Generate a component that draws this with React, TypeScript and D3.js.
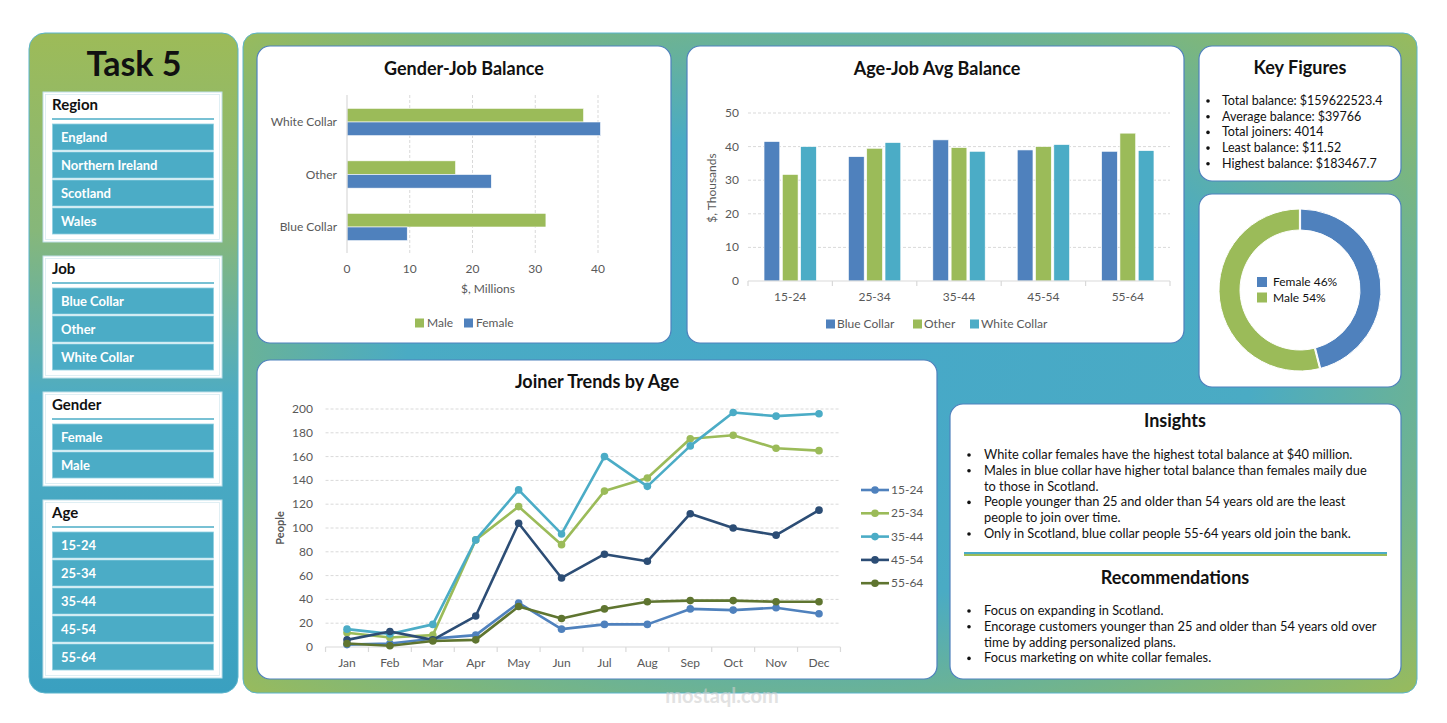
import { useEffect } from 'react'
import * as d3 from 'd3'

const FONT = 'Lato, "Open Sans", sans-serif'
const BLUE = '#4f81bd'
const GREEN = '#9bbb59'
const TEAL = '#4bacc6'
const NAVY = '#2c4d75'
const OLIVE = '#5f7530'
const AXIS_TXT = '#595959'
const GRID = '#d9d9d9'

// slicers
const regions = ['England', 'Northern Ireland', 'Scotland', 'Wales']
const jobs = ['Blue Collar', 'Other', 'White Collar']
const genders = ['Female', 'Male']
const ages = ['15-24', '25-34', '35-44', '45-54', '55-64']

// Gender-Job Balance ($, millions)
const gjJobs = ['White Collar', 'Other', 'Blue Collar']
const gjMale = [37.7, 17.3, 31.7]
const gjFemale = [40.4, 23.0, 9.6]
const gjTicks = [0, 10, 20, 30, 40]

// Age-Job Avg Balance ($, thousands)
const ajBlueCollar = [41.5, 37.0, 42.0, 39.0, 38.6]
const ajOther = [31.7, 39.5, 39.7, 40.0, 44.0]
const ajWhiteCollar = [40.0, 41.2, 38.6, 40.6, 38.8]
const ajTicks = [0, 10, 20, 30, 40, 50]

const keyFigures = [
  'Total balance: $159622523.4',
  'Average balance: $39766',
  'Total joiners: 4014',
  'Least balance: $11.52',
  'Highest balance: $183467.7',
]

const genderLabels = ['Female', 'Male']
const genderShare = [46, 54]

// Joiner Trends by Age (people)
const months = ['Jan', 'Feb', 'Mar', 'Apr', 'May', 'Jun', 'Jul', 'Aug', 'Sep', 'Oct', 'Nov', 'Dec']
const join1524 = [2, 3, 7, 10, 37, 15, 19, 19, 32, 31, 33, 28]
const join2534 = [12, 8, 10, 90, 118, 86, 131, 142, 175, 178, 167, 165]
const join3544 = [15, 11, 19, 90, 132, 95, 160, 135, 169, 197, 194, 196]
const join4554 = [6, 13, 6, 26, 104, 58, 78, 72, 112, 100, 94, 115]
const join5564 = [3, 1, 5, 6, 34, 24, 32, 38, 39, 39, 38, 38]
const joinTicks = [0, 20, 40, 60, 80, 100, 120, 140, 160, 180, 200]

const insights = [
  ['White collar females have the highest total balance at $40 million.'],
  ['Males in blue collar have higher total balance than females maily due', 'to those in Scotland.'],
  ['People younger than 25 and older than 54 years old are the least', 'people to join over time.'],
  ['Only in Scotland, blue collar people 55-64 years old join the bank.'],
]
const recommendations = [
  ['Focus on expanding in Scotland.'],
  ['Encorage customers younger than 25 and older than 54 years old over', 'time by adding personalized plans.'],
  ['Focus marketing on white collar females.'],
]

function Panel({ x, y, w, h }: { x: number; y: number; w: number; h: number }) {
  return <rect x={x} y={y} width={w} height={h} rx={13} fill="#fff" stroke={BLUE} strokeWidth={1.2} />
}

function Slicer({ top, title, items }: { top: number; title: string; items: string[] }) {
  const start = top + 32
  const bottom = start + items.length * 28 + 6
  return (
    <g>
      <rect x={43} y={top} width={179} height={bottom - top} fill="#fff" stroke="#bfe0ea" strokeWidth={1} />
      <rect x={45.5} y={top + 2.5} width={174} height={bottom - top - 5} fill="none" stroke="#d7ecf2" strokeWidth={0.8} />
      <text x={52} y={top + 18} fontSize={15} fontWeight={700} fill="#111">{title}</text>
      <line x1={52} x2={214} y1={top + 27} y2={top + 27} stroke={TEAL} strokeWidth={1.5} />
      {items.map((t, i) => (
        <g key={t}>
          <rect x={52.5} y={start + i * 28} width={161} height={26} fill={TEAL} stroke="#8fd0e0" strokeWidth={0.8} />
          <text x={61} y={start + i * 28 + 17.5} fontSize={13} fontWeight={700} fill="#fff">{t}</text>
        </g>
      ))}
    </g>
  )
}

function GenderJob() {
  const x = d3.scaleLinear().domain([0, 40]).range([347, 598])
  const y = d3.scaleBand().domain(gjJobs).range([95.75, 253.25]).paddingInner(0.48).paddingOuter(0.24)
  const sub = d3.scaleBand().domain(['Male', 'Female']).range([0, y.bandwidth()])
  return (
    <g>
      <text x={464} y={75} textAnchor="middle" fontSize={18} fontWeight={700} fill="#111">Gender-Job Balance</text>
      {gjTicks.slice(1).map(t => (
        <line key={t} x1={x(t)} x2={x(t)} y1={95} y2={253} stroke={GRID} strokeDasharray="3,2" />
      ))}
      {gjJobs.map((j, i) => (
        <g key={j}>
          <rect x={x(0)} y={y(j)! + sub('Male')!} width={x(gjMale[i]) - x(0)} height={sub.bandwidth()} fill={GREEN} stroke="#fff" strokeWidth={0.6} />
          <rect x={x(0)} y={y(j)! + sub('Female')!} width={x(gjFemale[i]) - x(0)} height={sub.bandwidth()} fill={BLUE} stroke="#fff" strokeWidth={0.6} />
          <text x={337} y={y(j)! + y.bandwidth() / 2 + 4} textAnchor="end" fontSize={12} fill={AXIS_TXT}>{j}</text>
        </g>
      ))}
      <line x1={x(0)} x2={x(0)} y1={95} y2={253} stroke={GRID} strokeWidth={1.2} />
      {gjTicks.map(t => (
        <text key={t} x={x(t)} y={273} textAnchor="middle" fontSize={12} fill={AXIS_TXT}>{t}</text>
      ))}
      <text x={488} y={293} textAnchor="middle" fontSize={12} fill={AXIS_TXT}>$, Millions</text>
      <rect x={415} y={318.5} width={9} height={9} fill={GREEN} />
      <text x={427} y={327} fontSize={12} fill={AXIS_TXT}>Male</text>
      <rect x={464} y={318.5} width={9} height={9} fill={BLUE} />
      <text x={476} y={327} fontSize={12} fill={AXIS_TXT}>Female</text>
    </g>
  )
}

function AgeJob() {
  const y = d3.scaleLinear().domain([0, 50]).range([281, 113])
  const x = d3.scaleBand().domain(ages).range([748, 1170]).paddingInner(0.38).paddingOuter(0.19)
  const sub = d3.scaleBand<number>().domain([0, 1, 2]).range([0, x.bandwidth()]).paddingInner(0.14)
  const series = [
    { name: 'Blue Collar', values: ajBlueCollar, color: BLUE },
    { name: 'Other', values: ajOther, color: GREEN },
    { name: 'White Collar', values: ajWhiteCollar, color: TEAL },
  ]
  const step = x.step()
  const legendX = [826, 913, 970]
  return (
    <g>
      <text x={937} y={75} textAnchor="middle" fontSize={18} fontWeight={700} fill="#111">Age-Job Avg Balance</text>
      {ajTicks.slice(1).map(t => (
        <line key={t} x1={748} x2={1170} y1={y(t)} y2={y(t)} stroke={GRID} strokeDasharray="3,2" />
      ))}
      {ages.map((a, i) => (
        <g key={a}>
          {series.map((s, k) => (
            <rect key={s.name} x={x(a)! + sub(k)!} y={y(s.values[i])} width={sub.bandwidth()} height={y(0) - y(s.values[i])} fill={s.color} stroke="#fff" strokeWidth={0.6} />
          ))}
          <text x={x(a)! + x.bandwidth() / 2} y={301} textAnchor="middle" fontSize={12} fill={AXIS_TXT}>{a}</text>
        </g>
      ))}
      <line x1={748} x2={1170} y1={y(0)} y2={y(0)} stroke={GRID} strokeWidth={1.2} />
      {d3.range(ages.length + 1).map(i => (
        <line key={i} x1={748 + i * step} x2={748 + i * step} y1={y(0)} y2={y(0) + 5} stroke={GRID} strokeWidth={1.2} />
      ))}
      {ajTicks.map(t => (
        <text key={t} x={739} y={y(t) + 4} textAnchor="end" fontSize={12} fill={AXIS_TXT}>{t}</text>
      ))}
      <text transform="translate(716,188) rotate(-90)" textAnchor="middle" fontSize={12} fill={AXIS_TXT}>$, Thousands</text>
      {series.map((s, k) => (
        <g key={s.name}>
          <rect x={legendX[k]} y={319.5} width={9} height={9} fill={s.color} />
          <text x={legendX[k] + 11} y={328} fontSize={12} fill={AXIS_TXT}>{s.name}</text>
        </g>
      ))}
    </g>
  )
}

function KeyFigures() {
  return (
    <g>
      <text x={1300} y={74} textAnchor="middle" fontSize={18} fontWeight={700} fill="#111">Key Figures</text>
      {keyFigures.map((t, i) => (
        <g key={t}>
          <circle cx={1208} cy={101 + i * 15.7} r={1.8} fill="#111" />
          <text x={1222} y={105 + i * 15.7} fontSize={12.5} fill="#111">{t}</text>
        </g>
      ))}
    </g>
  )
}

function Donut() {
  const pie = d3.pie<number>().sort(null).value(d => d)
  const arc = d3.arc<d3.PieArcDatum<number>>().innerRadius(60).outerRadius(81).padAngle(0.012)
  const colors = [BLUE, GREEN]
  return (
    <g transform="translate(1300,290)">
      {pie(genderShare).map((d, i) => (
        <path key={i} d={arc(d)!} fill={colors[i]} stroke="#fff" strokeWidth={1} />
      ))}
      {genderLabels.map((g, i) => (
        <g key={g}>
          <rect x={-43} y={-13 + i * 15.5} width={10} height={10} fill={colors[i]} />
          <text x={-27} y={-4 + i * 15.5} fontSize={12} fill="#111">{`${g} ${genderShare[i]}%`}</text>
        </g>
      ))}
    </g>
  )
}

function Joiners() {
  const x = d3.scalePoint().domain(months).range([347, 819])
  const y = d3.scaleLinear().domain([0, 200]).range([647, 409])
  const step = x.step()
  const series = [
    { name: '15-24', values: join1524, color: BLUE },
    { name: '25-34', values: join2534, color: GREEN },
    { name: '35-44', values: join3544, color: TEAL },
    { name: '45-54', values: join4554, color: NAVY },
    { name: '55-64', values: join5564, color: OLIVE },
  ]
  const line = d3.line<number>().x((_, i) => x(months[i])!).y(d => y(d))
  const left = x('Jan')! - step / 2
  const right = x('Dec')! + step / 2
  return (
    <g>
      <text x={597} y={388} textAnchor="middle" fontSize={18} fontWeight={700} fill="#111">Joiner Trends by Age</text>
      {joinTicks.slice(1).map(t => (
        <line key={t} x1={left} x2={right} y1={y(t)} y2={y(t)} stroke={GRID} strokeDasharray="3,2" />
      ))}
      <line x1={left} x2={right} y1={y(0)} y2={y(0)} stroke={GRID} strokeWidth={1.2} />
      {d3.range(months.length + 1).map(i => (
        <line key={i} x1={left + i * step} x2={left + i * step} y1={y(0)} y2={y(0) + 5} stroke={GRID} strokeWidth={1.2} />
      ))}
      {joinTicks.map(t => (
        <text key={t} x={313} y={y(t) + 4} textAnchor="end" fontSize={12} fill={AXIS_TXT}>{t}</text>
      ))}
      {months.map(m => (
        <text key={m} x={x(m)!} y={667} textAnchor="middle" fontSize={12} fill={AXIS_TXT}>{m}</text>
      ))}
      <text transform="translate(284,528) rotate(-90)" textAnchor="middle" fontSize={11} fontWeight={700} fill={AXIS_TXT}>People</text>
      {series.map(s => (
        <g key={s.name}>
          <path d={line(s.values)!} fill="none" stroke={s.color} strokeWidth={2.6} strokeLinejoin="round" />
          {s.values.map((v, i) => (
            <circle key={i} cx={x(months[i])!} cy={y(v)} r={3.8} fill={s.color} />
          ))}
        </g>
      ))}
      {series.map((s, i) => (
        <g key={s.name} transform={`translate(0,${490 + i * 23.3})`}>
          <line x1={861} x2={889} y1={0} y2={0} stroke={s.color} strokeWidth={2.6} />
          <circle cx={875} cy={0} r={3.8} fill={s.color} />
          <text x={891} y={4} fontSize={12} fill={AXIS_TXT}>{s.name}</text>
        </g>
      ))}
    </g>
  )
}

function Bullets({ items, top }: { items: string[][]; top: number }) {
  let row = 0
  return (
    <g>
      {items.map((lines, i) => {
        const first = row
        row += lines.length
        return (
          <g key={i}>
            <circle cx={969} cy={top + first * 15.8 - 4} r={1.8} fill="#111" />
            {lines.map((l, k) => (
              <text key={k} x={984} y={top + (first + k) * 15.8} fontSize={12.8} fill="#111">{l}</text>
            ))}
          </g>
        )
      })}
    </g>
  )
}

export default function App() {
  useEffect(() => {
    document.body.style.margin = '0'
  }, [])
  return (
    <svg width={1447} height={723} style={{ position: 'absolute', left: 0, top: 0, fontFamily: FONT }}>
      <defs>
        <linearGradient id="leftGrad" x1="0" y1="0" x2="0" y2="1">
          <stop offset="0%" stopColor="#9dbb58" />
          <stop offset="30%" stopColor="#86b77a" />
          <stop offset="55%" stopColor="#4eacc3" />
          <stop offset="100%" stopColor="#3aa0c0" />
        </linearGradient>
        <radialGradient id="mainGrad" cx="0.5" cy="0.5" r="0.72">
          <stop offset="0%" stopColor="#46a8c8" />
          <stop offset="50%" stopColor="#4aabc4" />
          <stop offset="80%" stopColor="#7bb67f" />
          <stop offset="100%" stopColor="#9bbb59" />
        </radialGradient>
        <linearGradient id="sepGrad" x1="0" y1="0" x2="0" y2="1">
          <stop offset="50%" stopColor={TEAL} />
          <stop offset="50%" stopColor={GREEN} />
        </linearGradient>
      </defs>
      <rect width={1447} height={723} fill="#fff" />

      {/* left slicer column */}
      <rect x={29} y={33} width={209} height={660} rx={16} fill="url(#leftGrad)" stroke="#5bb4cc" strokeWidth={1} />
      <text x={134} y={76} textAnchor="middle" fontSize={34} fontWeight={700} fill="#111">Task 5</text>
      <Slicer top={92} title="Region" items={regions} />
      <Slicer top={256} title="Job" items={jobs} />
      <Slicer top={392} title="Gender" items={genders} />
      <Slicer top={500} title="Age" items={ages} />

      {/* main area */}
      <rect x={243} y={33} width={1174} height={660} rx={14} fill="url(#mainGrad)" stroke="#5bb4cc" strokeWidth={1} />
      <Panel x={257} y={46} w={414} h={297} />
      <Panel x={687} y={46} w={497} h={297} />
      <Panel x={1199} y={46} w={202} h={135} />
      <Panel x={1199} y={194} w={202} h={193} />
      <Panel x={257} y={360} w={680} h={319} />
      <Panel x={950} y={404} w={451} h={275} />

      <GenderJob />
      <AgeJob />
      <KeyFigures />
      <Donut />
      <Joiners />

      <text x={1175} y={427} textAnchor="middle" fontSize={18} fontWeight={700} fill="#111">Insights</text>
      <Bullets items={insights} top={459} />
      <rect x={964} y={552} width={423} height={4} fill="url(#sepGrad)" />
      <text x={1175} y={584} textAnchor="middle" fontSize={18} fontWeight={700} fill="#111">Recommendations</text>
      <Bullets items={recommendations} top={615} />

      {/* watermark */}
      <text x={722} y={703} textAnchor="middle" fontSize={20} fontWeight={700} fill="#cfcfcf" opacity={0.6}>mostaql.com</text>
    </svg>
  )
}
